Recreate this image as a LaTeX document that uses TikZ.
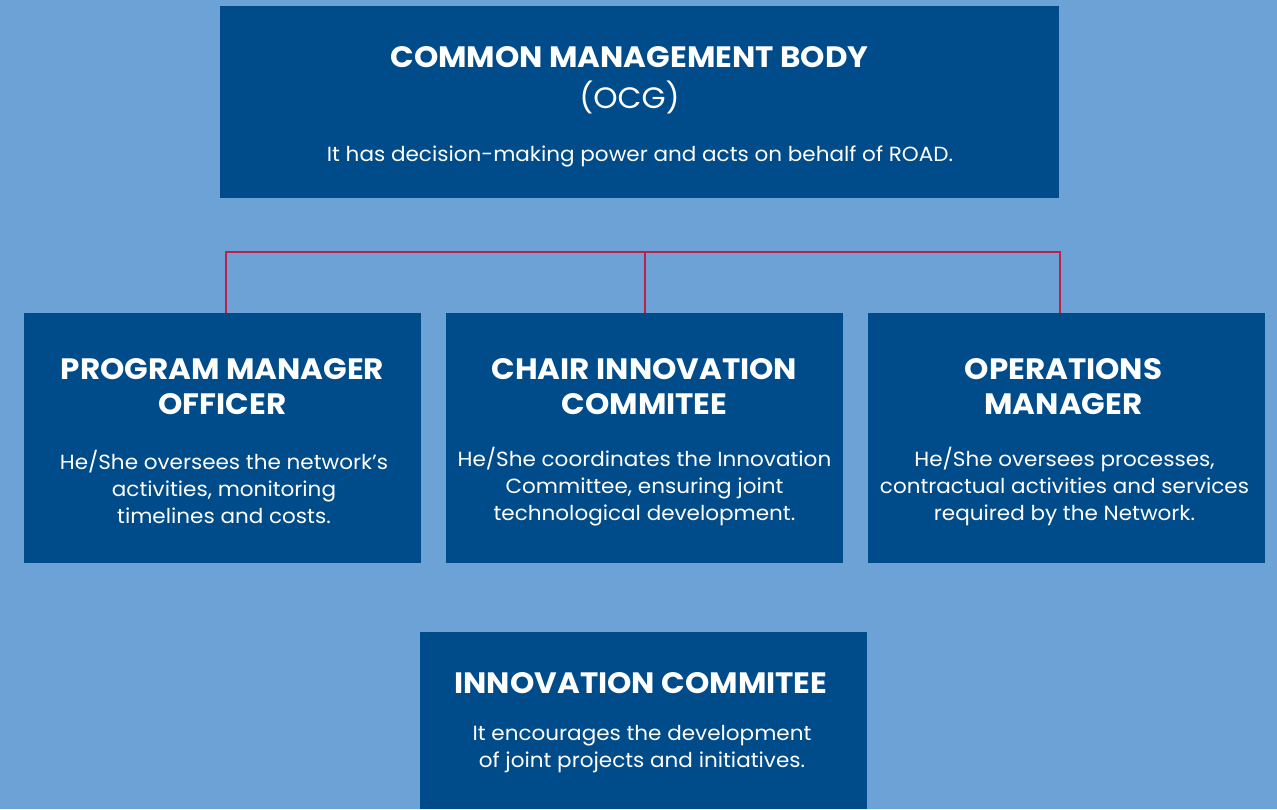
\documentclass[tikz,border=0pt]{standalone}
\usepackage{fontspec}
\setmainfont[FakeStretch=1.05]{Poppins}
\definecolor{bg}{RGB}{108,162,214}
\definecolor{boxc}{RGB}{0,76,138}
\definecolor{redl}{RGB}{192,32,72}
\begin{document}
\begin{tikzpicture}[x=1pt,y=-1pt,
  panel/.style={fill=boxc,draw=none,inner sep=0pt,outer sep=0pt},
  ttl/.style={text=white,font=\fontsize{29.5}{35}\selectfont\bfseries,align=center,inner sep=0pt},
  sub/.style={text=white,font=\fontsize{29.5}{35}\selectfont,align=center,inner sep=0pt},
  body/.style={text=white,font=\fontsize{20.5}{27}\selectfont,align=center,inner sep=0pt},
  link/.style={draw=redl,line width=2.3pt}]
\useasboundingbox[fill=bg] (0,0) rectangle (1277,809);
% boxes
\node[panel,minimum width=839pt,minimum height=192pt] (top) at (639.5,102) {};
\node[panel,minimum width=397pt,minimum height=250pt] (b1) at (222.5,438) {};
\node[panel,minimum width=397pt,minimum height=250pt] (b2) at (644.5,438) {};
\node[panel,minimum width=397pt,minimum height=250pt] (b3) at (1066.5,438) {};
\node[panel,minimum width=447pt,minimum height=177pt] (b4) at (643.5,720.5) {};
% texts
\node[ttl] (t0) at (629.5,57) {COMMON MANAGEMENT BODY};
\node[sub] (t0b) at (629.5,97) {(OCG)};
\node[body] (t0c) at (640,156) {It has decision-making power and acts on behalf of ROAD.};
\node[ttl] (t1) at (222.5,386.5) {PROGRAM MANAGER\\OFFICER};
\node[body] (d1) at (224,487) {He/She oversees the network’s\\activities, monitoring\\timelines and costs.};
\node[ttl] (t2) at (644.5,386.5) {CHAIR INNOVATION\\COMMITEE};
\node[body] (d2) at (644.5,487) {He/She coordinates the Innovation\\Committee, ensuring joint\\technological development.};
\node[ttl] (t3) at (1063.5,386.5) {OPERATIONS\\MANAGER};
\node[body] (d3) at (1064.5,487) {He/She oversees processes,\\contractual activities and services\\required by the Network.};
\node[ttl] (t4) at (641,683) {INNOVATION COMMITEE};
\node[body] (d4) at (642,749.5) {It encourages the development\\of joint projects and initiatives.};
% connectors
\coordinate (jL) at (226,252);
\coordinate (jM) at (645,252);
\coordinate (jR) at (1060,252);
\draw[link] (jL |- b1.north) -- (jL) -- (jR) -- (jR |- b3.north);
\draw[link] (jM) -- (jM |- b2.north);
\end{tikzpicture}
\end{document}
